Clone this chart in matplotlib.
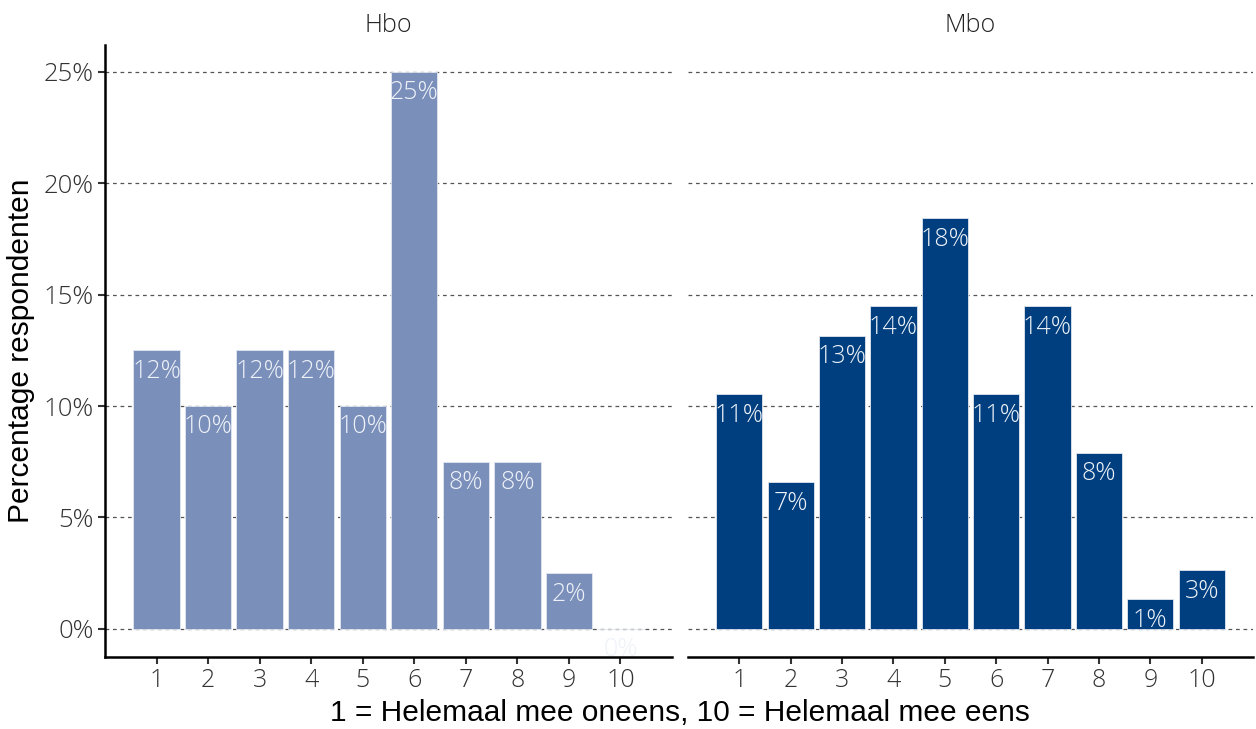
import matplotlib.pyplot as plt
from matplotlib.ticker import FuncFormatter

scores = [1, 2, 3, 4, 5, 6, 7, 8, 9, 10]
hbo = [12.5, 10.0, 12.5, 12.5, 10.0, 25.0, 7.5, 7.5, 2.5, 0.0]
mbo = [10.53, 6.58, 13.16, 14.47, 18.42, 10.53, 14.47, 7.89, 1.32, 2.63]
panels = ["Hbo", "Mbo"]
colors = ["#7b8fbb", "#003f7f"]

tick_font = "Open Sans"
light = "light"

fig = plt.figure(figsize=(12.56, 7.29), dpi=100)
W, H = 1256, 729
ax1 = fig.add_axes([105 / W, 1 - 657 / H, (672 - 105) / W, (657 - 45) / H])
ax2 = fig.add_axes([688 / W, 1 - 657 / H, (1253 - 688) / W, (657 - 45) / H])

for ax, name, vals, col in zip([ax1, ax2], panels, [hbo, mbo], colors):
    ax.bar(scores, vals, width=0.9, color=col, edgecolor="#e0e6f0", linewidth=0.6, zorder=2)
    for x, v in zip(scores, vals):
        ax.annotate(f"{v:.0f}%", (x, v), xytext=(0, -6), textcoords="offset points",
                    ha="center", va="top", color="#eef2f8", fontsize=18,
                    family=tick_font, fontweight=light, zorder=3)
    ax.set_xlim(0.0, 11.0)
    ax.set_ylim(-1.26, 26.2)
    ax.set_yticks([0, 5, 10, 15, 20, 25])
    ax.yaxis.set_major_formatter(FuncFormatter(lambda v, p: f"{v:.0f}%"))
    ax.grid(axis="y", linestyle=(0, (3, 3)), color="#555555", linewidth=0.9, zorder=1)
    ax.set_xticks(scores)
    ax.set_xticklabels([str(s) for s in scores], family=tick_font, fontsize=18,
                       fontweight=light, color="#333333")
    for s in ["top", "right"]:
        ax.spines[s].set_visible(False)
    ax.spines["bottom"].set_linewidth(1.8)
    ax.spines["left"].set_linewidth(1.8)
    ax.tick_params(axis="both", length=5, width=1.5, color="#333333", pad=3)
    ax.set_title(name, family=tick_font, fontsize=18, fontweight=light, color="#222222", pad=9)
    ax.set_axisbelow(True)

for lab in ax1.get_yticklabels():
    lab.set_family(tick_font)
    lab.set_fontsize(18.5)
    lab.set_fontweight(light)
    lab.set_color("#333333")

ax2.spines["left"].set_visible(False)
ax2.tick_params(axis="y", left=False, labelleft=False)

ax1.set_ylabel("Percentage respondenten", family="Liberation Sans", fontsize=21.5, labelpad=6)
fig.text(680 / W, 1 - 713 / H, "1 = Helemaal mee oneens, 10 = Helemaal mee eens",
         family="Liberation Sans", fontsize=21.5, ha="center", va="center")

plt.savefig("out.png", dpi=100)
